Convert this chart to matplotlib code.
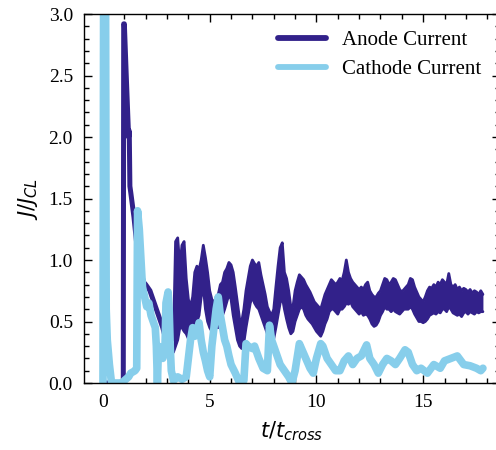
import matplotlib
matplotlib.use("Agg")
import matplotlib.pyplot as plt
from matplotlib.ticker import MultipleLocator

# Anode current: early (smooth) part as a single trace
anode_early_t = [0.0, 0.5, 0.95, 0.97, 1.0, 1.1, 1.2, 1.23, 1.26, 1.3, 1.45, 1.6, 1.75, 1.9,
                 2.0, 2.2, 2.4, 2.6, 2.8, 3.0, 3.15, 3.25, 3.3]
anode_early_j = [0.0, 0.0, 0.0, 2.92, 2.92, 2.45, 2.0, 2.05, 1.6, 1.55, 1.35, 1.1, 0.92, 0.82,
                 0.8, 0.75, 0.65, 0.55, 0.45, 0.32, 0.22, 0.28, 0.3]

# Anode current: noisy part, upper and lower envelope of the fast oscillation
anode_noisy_t = [3.3, 3.4, 3.5, 3.6, 3.7, 3.8, 3.9, 4.0, 4.1, 4.2,
                 4.3, 4.4, 4.5, 4.6, 4.7, 4.8, 4.9, 5.0, 5.1, 5.2,
                 5.3, 5.4, 5.5, 5.6, 5.7, 5.8, 5.9, 6.0, 6.1, 6.2,
                 6.3, 6.4, 6.5, 6.6, 6.7, 6.8, 6.9, 7.0, 7.1, 7.2,
                 7.3, 7.4, 7.5, 7.6, 7.7, 7.8, 7.9, 8.0, 8.1, 8.2,
                 8.3, 8.4, 8.5, 8.6, 8.7, 8.8, 8.9, 9.0, 9.1, 9.2,
                 9.3, 9.4, 9.5, 9.6, 9.7, 9.8, 9.9, 10.0, 10.1, 10.2,
                 10.3, 10.4, 10.5, 10.6, 10.7, 10.8, 10.9, 11.0, 11.1, 11.2,
                 11.3, 11.4, 11.5, 11.6, 11.7, 11.8, 11.9, 12.0, 12.1, 12.2,
                 12.3, 12.4, 12.5, 12.6, 12.7, 12.8, 12.9, 13.0, 13.1, 13.2,
                 13.3, 13.4, 13.5, 13.6, 13.7, 13.8, 13.9, 14.0, 14.1, 14.2,
                 14.3, 14.4, 14.5, 14.6, 14.7, 14.8, 14.9, 15.0, 15.1, 15.2,
                 15.3, 15.4, 15.5, 15.6, 15.7, 15.8, 15.9, 16.0, 16.1, 16.2,
                 16.3, 16.4, 16.5, 16.6, 16.7, 16.8, 16.9, 17.0, 17.1, 17.2,
                 17.3, 17.4, 17.5, 17.6, 17.7, 17.8]
anode_upper = [0.35, 1.15, 1.18, 0.95, 1.12, 1.15, 0.85, 0.68, 0.62, 0.7,
               0.9, 0.95, 0.92, 1.0, 1.12, 1.02, 0.9, 0.75, 0.68, 0.65,
               0.7, 0.72, 0.8, 0.82, 0.9, 0.93, 0.98, 0.96, 0.9, 0.78,
               0.65, 0.52, 0.5, 0.6, 0.75, 0.85, 0.95, 1.0, 0.97, 0.95,
               0.98, 0.88, 0.8, 0.72, 0.62, 0.58, 0.55, 0.6, 0.78, 0.95,
               1.1, 1.14, 0.9, 0.85, 0.75, 0.62, 0.62, 0.75, 0.82, 0.88,
               0.86, 0.84, 0.8, 0.77, 0.74, 0.7, 0.66, 0.64, 0.62, 0.6,
               0.66, 0.72, 0.76, 0.8, 0.84, 0.82, 0.8, 0.82, 0.85, 0.83,
               0.9, 1.0, 0.9, 0.85, 0.82, 0.8, 0.78, 0.76, 0.78, 0.76,
               0.8, 0.82, 0.75, 0.72, 0.7, 0.7, 0.73, 0.75, 0.8, 0.85,
               0.84, 0.8, 0.82, 0.85, 0.84, 0.8, 0.76, 0.74, 0.76, 0.78,
               0.8, 0.85, 0.84, 0.78, 0.74, 0.7, 0.68, 0.66, 0.7, 0.75,
               0.78, 0.77, 0.8, 0.78, 0.82, 0.8, 0.84, 0.82, 0.8, 0.89,
               0.8, 0.78, 0.8, 0.76, 0.78, 0.75, 0.77, 0.76, 0.74, 0.76,
               0.73, 0.75, 0.74, 0.72, 0.75, 0.72]
anode_lower = [0.25, 0.3, 0.35, 0.45, 0.45, 0.42, 0.4, 0.36, 0.38, 0.42,
               0.45, 0.5, 0.55, 0.7, 0.78, 0.6, 0.5, 0.45, 0.42, 0.42,
               0.45, 0.45, 0.5, 0.55, 0.6, 0.66, 0.72, 0.68, 0.55, 0.45,
               0.35, 0.3, 0.28, 0.33, 0.45, 0.55, 0.65, 0.7, 0.65, 0.62,
               0.6, 0.55, 0.5, 0.45, 0.4, 0.33, 0.32, 0.36, 0.45, 0.55,
               0.65, 0.7, 0.6, 0.52, 0.45, 0.4, 0.42, 0.5, 0.55, 0.6,
               0.62, 0.6, 0.55, 0.52, 0.5, 0.48, 0.45, 0.42, 0.4, 0.38,
               0.42, 0.48, 0.52, 0.58, 0.6, 0.6, 0.58, 0.56, 0.6, 0.6,
               0.62, 0.65, 0.64, 0.66, 0.62, 0.6, 0.58, 0.56, 0.58, 0.55,
               0.56, 0.55, 0.52, 0.48, 0.46, 0.47, 0.5, 0.55, 0.58, 0.62,
               0.6, 0.6, 0.58, 0.6, 0.58, 0.57, 0.56, 0.58, 0.6, 0.6,
               0.6, 0.62, 0.6, 0.56, 0.53, 0.5, 0.5, 0.49, 0.5, 0.52,
               0.55, 0.56, 0.57, 0.56, 0.58, 0.57, 0.6, 0.6, 0.58, 0.62,
               0.6, 0.57, 0.56, 0.55, 0.56, 0.54, 0.57, 0.58, 0.56, 0.58,
               0.57, 0.56, 0.58, 0.57, 0.58, 0.58]

# Cathode current
cathode_t = [0.0, 0.03, 0.12, 0.15, 0.2, 0.3, 0.4, 0.9, 1.0, 1.2, 1.3, 1.5, 1.58, 1.62, 1.7,
             1.78, 1.85, 1.95, 2.05, 2.15, 2.25, 2.35, 2.45, 2.5, 2.55, 2.6, 2.7, 2.8, 2.9,
             2.95, 3.05, 3.1, 3.15, 3.2, 3.3, 3.5, 3.7, 3.9, 4.0, 4.1, 4.2, 4.3, 4.4, 4.5,
             4.6, 4.7, 4.8, 4.9, 5.0, 5.1, 5.2, 5.3, 5.4, 5.5, 5.6, 5.7, 5.8, 5.9, 6.0, 6.2,
             6.4, 6.6, 6.7, 6.8, 7.0, 7.1, 7.3, 7.5, 7.7, 7.8, 7.9, 8.1, 8.3, 8.5, 8.7, 8.85,
             9.0, 9.2, 9.3, 9.5, 9.7, 9.85, 10.0, 10.2, 10.3, 10.5, 10.7, 10.9, 11.1, 11.3,
             11.5, 11.7, 11.9, 12.1, 12.35, 12.5, 12.7, 12.9, 13.1, 13.3, 13.5, 13.7, 13.9,
             14.15, 14.3, 14.5, 14.7, 14.9, 15.2, 15.5, 15.8, 16.0, 16.3, 16.6, 16.9, 17.2,
             17.5, 17.7, 17.8]
cathode_j = [0.0, 3.3, 3.3, 0.6, 0.35, 0.15, 0.0, 0.0, 0.02, 0.05, 0.08, 0.1, 0.12, 1.4, 1.25,
             1.0, 0.78, 0.7, 0.62, 0.65, 0.55, 0.5, 0.45, 0.3, 0.0, 0.3, 0.25, 0.2, 0.25,
             0.65, 0.74, 0.6, 0.3, 0.1, 0.02, 0.05, 0.03, 0.05, 0.2, 0.35, 0.45, 0.38, 0.4, 0.49,
             0.35, 0.25, 0.18, 0.1, 0.05, 0.3, 0.45, 0.6, 0.7, 0.55, 0.45, 0.35, 0.3, 0.22, 0.15, 0.08,
             0.0, 0.02, 0.32, 0.3, 0.28, 0.3, 0.2, 0.12, 0.1, 0.47, 0.35, 0.25, 0.15, 0.1, 0.05, 0.0,
             0.1, 0.32, 0.28, 0.2, 0.12, 0.08, 0.2, 0.32, 0.3, 0.2, 0.15, 0.1, 0.1, 0.18,
             0.22, 0.15, 0.2, 0.22, 0.31, 0.2, 0.15, 0.08, 0.15, 0.2, 0.18, 0.15, 0.2,
             0.27, 0.25, 0.15, 0.1, 0.12, 0.08, 0.15, 0.12, 0.18, 0.2, 0.22, 0.15, 0.14,
             0.12, 0.1, 0.12]

ANODE = "#32218a"
CATHODE = "#87ceeb"

W, H = 496, 450
fig = plt.figure(figsize=(W / 100, H / 100), dpi=100)
ax = fig.add_axes([84 / W, 1 - 383 / H, (500 - 84) / W, (383 - 14) / H])

ax.plot(anode_early_t, anode_early_j, color=ANODE, lw=3.6, label="Anode Current",
        solid_joinstyle="round", solid_capstyle="round")
ax.fill_between(anode_noisy_t, anode_lower, anode_upper, color=ANODE, lw=0)
ax.plot(anode_noisy_t, anode_upper, color=ANODE, lw=2.0,
        solid_joinstyle="round", solid_capstyle="round")
ax.plot(anode_noisy_t, anode_lower, color=ANODE, lw=2.0,
        solid_joinstyle="round", solid_capstyle="round")
ax.plot(cathode_t, cathode_j, color=CATHODE, lw=5.5, label="Cathode Current",
        solid_joinstyle="round", solid_capstyle="round")

ax.set_xlim(-0.89, 18.6)
ax.set_ylim(0, 3.0)
ax.xaxis.set_major_locator(MultipleLocator(5))
ax.xaxis.set_minor_locator(MultipleLocator(1))
ax.yaxis.set_major_locator(MultipleLocator(0.5))
ax.yaxis.set_minor_locator(MultipleLocator(0.1))
ax.tick_params(which="both", direction="in", top=True, right=True, width=1)
ax.tick_params(which="major", length=6)
ax.tick_params(which="minor", length=3.5)
for lab in ax.get_xticklabels() + ax.get_yticklabels():
    lab.set_fontfamily("Liberation Serif")
    lab.set_fontsize(14)
ax.tick_params(axis="x", pad=8)
ax.tick_params(axis="y", pad=8)
for s in ax.spines.values():
    s.set_linewidth(1)

ax.set_xlabel(r"$t/t_{cross}$", fontsize=15, labelpad=6)
ax.set_ylabel(r"$J/J_{CL}$", fontsize=15, labelpad=6)

leg = ax.legend(loc="upper right", bbox_to_anchor=(490 / W, 1 - 22 / H),
                bbox_transform=fig.transFigure, frameon=False,
                prop={"family": "Liberation Serif", "size": 15},
                handlelength=2.3, handletextpad=0.8, labelspacing=0.45,
                borderaxespad=0)
for h in leg.get_lines():
    h.set_linewidth(4.2)

fig.savefig("out.png", dpi=100)
